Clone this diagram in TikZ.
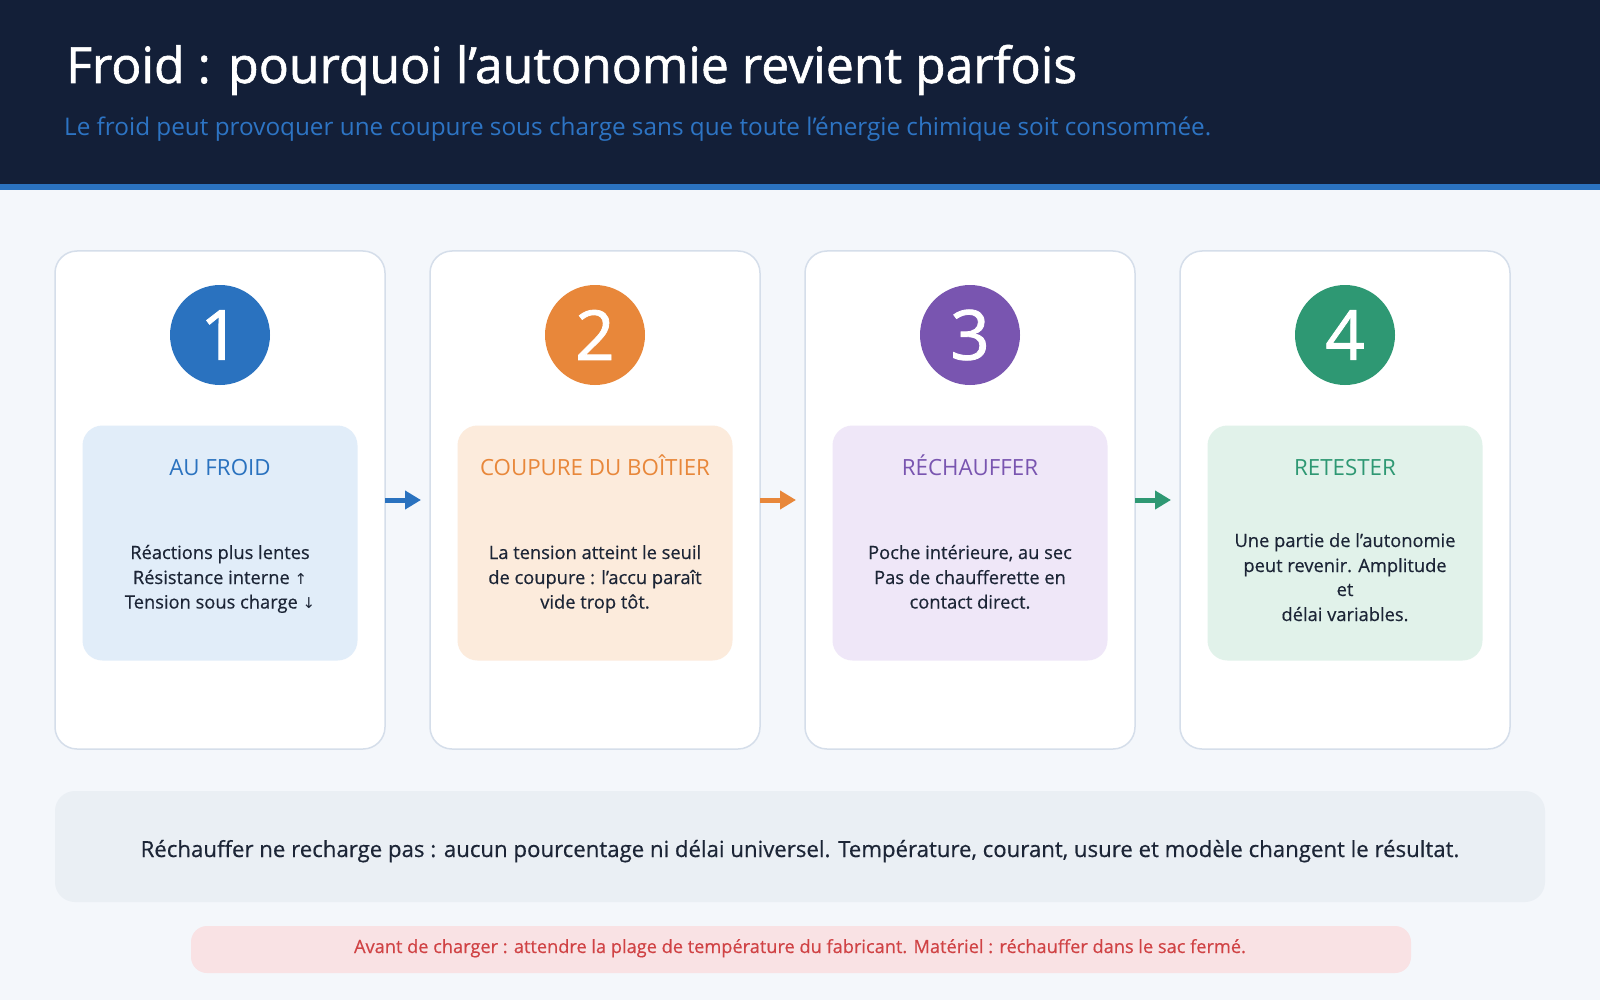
\documentclass[tikz,border=0pt]{standalone}
\usepackage{fontspec}
\setmainfont{Open Sans}
\newfontfamily\semib{Open Sans}[FakeBold=1.2]
\newfontfamily\medf{Open Sans}[FakeBold=0.5]
\newfontfamily\symfont{DejaVu Sans}
\usetikzlibrary{arrows.meta}
\definecolor{bgc}{HTML}{F4F7FB}
\definecolor{headc}{HTML}{131F38}
\definecolor{bandc}{HTML}{2B72BF}
\definecolor{subc}{HTML}{2D74C4}
\definecolor{cardline}{HTML}{D5DEEA}
\definecolor{txt}{HTML}{1C2536}
\definecolor{ca}{HTML}{2A72BF}\definecolor{la}{HTML}{E1EDF9}
\definecolor{cb}{HTML}{E8873A}\definecolor{lb}{HTML}{FCEBDC}
\definecolor{cc}{HTML}{7955B0}\definecolor{lc}{HTML}{EFE7F8}
\definecolor{cd}{HTML}{2E9873}\definecolor{ld}{HTML}{E1F2EA}
\definecolor{grayb}{HTML}{EAEFF4}
\definecolor{pinkb}{HTML}{F9E2E4}
\definecolor{redt}{HTML}{D04345}
\tikzset{
  card/.style={draw=cardline, line width=1.5pt, fill=white, rounded corners=22pt,
    minimum width=330pt, minimum height=498pt, inner sep=0pt, outer sep=0pt},
  numc/.style={circle, fill=#1, minimum size=100pt, inner sep=0pt, text=white,
    font=\semib\fontsize{69}{69}\selectfont},
  inbox/.style={fill=#1, rounded corners=20pt, minimum width=275pt, minimum height=235pt,
    inner sep=0pt},
  ctitle/.style={anchor=base, text=#1, inner sep=0pt, font=\fontsize{22.3}{22.3}\selectfont},
  body/.style={anchor=base, text=txt, inner sep=0pt, font=\medf\fontsize{18.3}{18.3}\selectfont},
  flow/.style={draw=#1, line width=5pt, -{Triangle[length=16pt,width=18pt]}},
}
\begin{document}
\begin{tikzpicture}[x=1pt,y=-1pt]
\useasboundingbox (0,0) rectangle (1600,1000);
\fill[bgc] (0,0) rectangle (1600,1000);
\fill[headc] (0,0) rectangle (1600,184);
\fill[bandc] (0,184) rectangle (1600,190);
\node[anchor=base west, inner sep=0pt, text=white, font=\semib\fontsize{49.9}{49.9}\selectfont] (title) at (66,83)
  {Froid : pourquoi l’autonomie revient parfois};
\node[anchor=base west, inner sep=0pt, text=subc, font=\fontsize{24.3}{24.3}\selectfont] (sub) at (64,136)
  {Le froid peut provoquer une coupure sous charge sans que toute l’énergie chimique soit consommée.};

% cards
\node[card] (c1) at (220,500) {};
\node[card] (c2) at (595,500) {};
\node[card] (c3) at (970,500) {};
\node[card] (c4) at (1345,500) {};

\node[numc=ca] (n1) at (220,335) {1};
\node[numc=cb] (n2) at (595,335) {2};
\node[numc=cc] (n3) at (970,335) {3};
\node[numc=cd] (n4) at (1345,335) {4};

\node[inbox=la] (b1) at (220,543) {};
\node[inbox=lb] (b2) at (595,543) {};
\node[inbox=lc] (b3) at (970,543) {};
\node[inbox=ld] (b4) at (1345,543) {};

\node[ctitle=ca] (t1) at (220,475) {AU FROID};
\node[ctitle=cb] (t2) at (595,475) {COUPURE DU BOÎTIER};
\node[ctitle=cc] (t3) at (970,475) {RÉCHAUFFER};
\node[ctitle=cd] (t4) at (1345,475) {RETESTER};

\node[body] (p1a) at (220,559) {Réactions plus lentes};
\node[body] (p1b) at (220,584) {Résistance interne {\symfont\fontsize{15}{15}\selectfont ↑}};
\node[body] (p1c) at (220,608.5) {Tension sous charge {\symfont\fontsize{15}{15}\selectfont ↓}};

\node[body] (p2a) at (595,559) {La tension atteint le seuil};
\node[body] (p2b) at (595,584) {de coupure : l’accu paraît};
\node[body] (p2c) at (595,608.5) {vide trop tôt.};

\node[body] (p3a) at (970,559) {Poche intérieure, au sec};
\node[body] (p3b) at (970,584) {Pas de chaufferette en};
\node[body] (p3c) at (970,608.5) {contact direct.};

\node[body] (p4a) at (1345,547) {Une partie de l’autonomie};
\node[body] (p4b) at (1345,572) {peut revenir. Amplitude};
\node[body] (p4c) at (1345,596) {et};
\node[body] (p4d) at (1345,621) {délai variables.};

% arrows
\draw[flow=ca] (c1.east) -- ([xshift=-9pt]c2.west);
\draw[flow=cb] (c2.east) -- ([xshift=-9pt]c3.west);
\draw[flow=cd] (c3.east) -- ([xshift=-9pt]c4.west);

% bottom notes
\node[fill=grayb, rounded corners=20pt, minimum width=1490pt, minimum height=111pt, inner sep=0pt] (gb) at (800,846.5) {};
\node[anchor=base, inner sep=0pt, text=txt, font=\medf\fontsize{22.2}{22.2}\selectfont] (gt) at (800,857)
  {Réchauffer ne recharge pas : aucun pourcentage ni délai universel. Température, courant, usure et modèle changent le résultat.};
\node[fill=pinkb, rounded corners=16pt, minimum width=1220pt, minimum height=47pt, inner sep=0pt] (pb) at (801,949.5) {};
\node[anchor=base, inner sep=0pt, text=redt, font=\medf\fontsize{18.2}{18.2}\selectfont] (pt) at (800,953)
  {Avant de charger : attendre la plage de température du fabricant. Matériel : réchauffer dans le sac fermé.};
\end{tikzpicture}
\end{document}
